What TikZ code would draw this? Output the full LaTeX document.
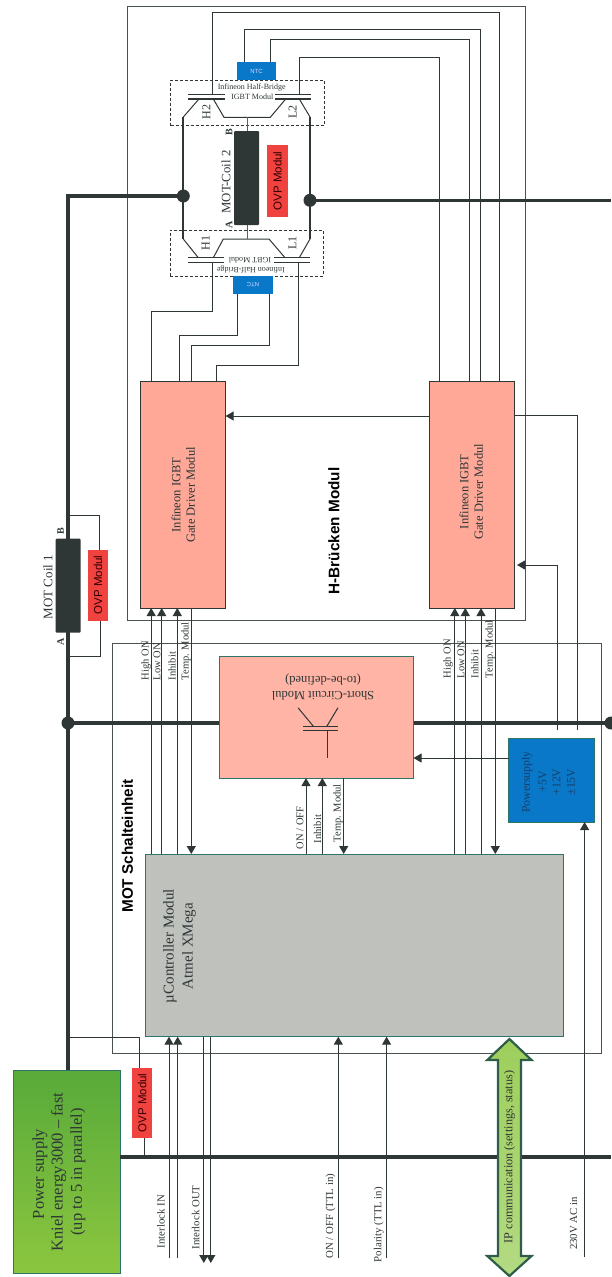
\documentclass[tikz,border=0pt]{standalone}
\usepackage{fontspec}
\setmainfont{Liberation Serif}
\setsansfont{Liberation Sans}
\usetikzlibrary{arrows.meta}
\definecolor{ink}{HTML}{2E3636}
\definecolor{frame}{HTML}{4A5252}
\definecolor{salmon}{HTML}{FFA898}
\definecolor{salmonb}{HTML}{FFB4A6}
\definecolor{ctrlgrey}{HTML}{BFC1BD}
\definecolor{teal}{HTML}{2F7468}
\definecolor{bluebox}{HTML}{0A78C8}
\definecolor{redbox}{HTML}{F0423F}
\definecolor{bluetext}{HTML}{14406A}
\definecolor{gdark}{HTML}{58AA3A}
\definecolor{glight}{HTML}{8CC63F}
\definecolor{gborder}{HTML}{2E5E48}
\tikzset{
  frameline/.style={draw=frame,line width=0.8pt},
  wire/.style={draw=ink,line width=1pt},
  arr/.style={wire,-{Triangle[length=8pt,width=9pt]}},
  rail/.style={draw=ink,line width=3.6pt},
  bus/.style={draw=ink,line width=2pt},
  plate/.style={draw=ink,line width=1.2pt},
  dot/.style={circle,fill=ink,inner sep=0pt,minimum size=13pt},
  boxbase/.style={inner sep=0pt,outer sep=0pt,line width=1pt},
  driver/.style={boxbase,draw=ink,fill=salmon},
  scbox/.style={boxbase,draw=teal,fill=salmonb},
  ctrl/.style={boxbase,draw=teal,fill=ctrlgrey},
  psu/.style={boxbase,draw=teal,top color=gdark,bottom color=glight},
  ntc/.style={boxbase,fill=bluebox},
  psbox/.style={boxbase,draw=teal,fill=bluebox},
  ovp/.style={boxbase,fill=redbox},
  coil/.style={boxbase,fill=ink,rounded corners=1pt},
  dashbox/.style={boxbase,draw=ink,dash pattern=on 3pt off 2pt,line width=0.8pt},
  tx/.style={inner sep=0pt,outer sep=0pt,font=\fontsize{10.5}{11}\selectfont,text=ink},
  vtx/.style={tx,rotate=90},
  sig/.style={vtx,anchor=west},
  ext/.style={vtx,font=\fontsize{10.8}{12}\selectfont},
  big/.style={vtx,font=\fontsize{12.5}{14.5}\selectfont,align=center},
  huge/.style={vtx,font=\fontsize{15}{17}\selectfont},
  pstx/.style={vtx,font=\fontsize{11.8}{13}\selectfont,text=bluetext},
  head/.style={vtx,font=\sffamily\bfseries\fontsize{15.3}{17}\selectfont,text=black},
  ovptx/.style={vtx,font=\sffamily\fontsize{11.5}{13}\selectfont,text=black!80!red},
}
\newcounter{tn}
\newcommand{\tbox}[6]{\node[#6,minimum width={(#4-#2)*1pt},minimum height={(#5-#3)*1pt}] (#1) at ({(#2+#4)/2},{(#3+#5)/2}) {};}
\newcommand{\tlab}[4]{\stepcounter{tn}\node[#1] (tx\arabic{tn}) at (#2,#3) {#4};}
\begin{document}
\begin{tikzpicture}[x=1pt,y=-1pt]
\useasboundingbox (0,0) rectangle (611,1277);
% enclosing frames
\tbox{hframe}{127.5}{6}{525}{620}{boxbase,frameline}
\tbox{mframe}{112.5}{643}{601}{1053}{boxbase,frameline}
% boxes
\tbox{drvA}{140.3}{381}{225.6}{608}{driver}
\tbox{drvB}{429}{381}{514.4}{608}{driver}
\tbox{sc}{219}{656.3}{413.5}{778}{scbox}
\tbox{mcu}{145}{854}{563.5}{1036.7}{ctrl}
\tbox{pw}{508.6}{738}{594}{822}{psbox}
\tbox{knl}{13.6}{1070}{120.4}{1273}{psu}
\coordinate (rtU) at (611,200.3);
\coordinate (rtM) at (611,723);
\coordinate (rtL) at (611,1157);
\node[dot] (dH1) at (183.3,196) {};
\node[dot] (dL1) at (310,200.3) {};
\node[dot] (dM1) at (68,723) {};
\node[dot] (dM2) at (611,723) {};
% thick rails
\draw[rail] (knl.north -| 68,0) -- (68,196) -- (dH1.center);
\draw[rail] (dL1.center) -- (rtU);
\draw[rail] (dM1.center) -- (sc.west |- dM1.center);
\draw[rail] (sc.east |- dM1.center) -- (rtM);
\draw[rail] (knl.east |- rtL) -- (rtL);
% half bridges
\coordinate (tH) at (183.3,117);
\coordinate (tL) at (310,117);
\coordinate (bH) at (183.3,239);
\coordinate (bL) at (310,239);
\draw[bus] (tH) -- (bH);
\draw[bus] (tL) -- (bL);
\coordinate (tC) at (247,117.3);
\coordinate (bC) at (247,239);
\draw[wire] (199,99) -- (tH);
\draw[wire] (213.3,99) -- (224,117.3) -- (270.3,117.3) -- (285.7,99);
\draw[wire] (299.3,99) -- (tL);
\draw[wire] (bH) -- (198.3,257.7);
\draw[wire] (213.3,257.7) -- (223.3,239) -- (269,239) -- (285,257.7);
\draw[wire] (bL) -- (299.3,257.7);
\foreach \xa/\xb/\ya in {188/224.7/94.3,188/224.7/99,275/311/94.3,275/311/99,187.7/224/257.7,187.7/224/262.3,274/310/257.7,274/310/262.3}
  \draw[plate] (\xa,\ya) -- (\xb,\ya);
\tbox{dashT}{170.7}{80}{324}{125.7}{dashbox}
\tbox{dashB}{170}{230}{323}{276}{dashbox}
\tbox{ntcT}{236.7}{62}{276}{80}{ntc}
\tbox{ntcB}{233}{276}{273}{294}{ntc}
\tbox{coilB}{234}{131}{259}{225}{coil}
\tbox{ovpB}{267}{145}{287.7}{216.7}{ovp}
\draw[draw=teal,line width=1pt] (tC) -- (coilB.north -| tC);
\draw[draw=teal,line width=1pt] (coilB.south -| bC) -- (bC);
% wires driver B to top bridge
\draw[wire] (212.7,94.3) -- (212.7,12.7) -- (499,12.7) -- (drvB.north -| 499,0);
\draw[wire] (ntcT.north -| 244.3,0) -- (244.3,29) -- (480.3,29) -- (drvB.north -| 480.3,0);
\draw[wire] (ntcT.north -| 270.3,0) -- (270.3,39.7) -- (469,39.7) -- (drvB.north -| 469,0);
\draw[wire] (299.3,94.3) -- (299.3,57.3) -- (439.3,57.3) -- (drvB.north -| 439.3,0);
% wires driver A to bottom bridge
\draw[wire] (212.3,262.3) -- (212.3,311) -- (151,311) -- (drvA.north -| 151,0);
\draw[wire] (ntcB.south -| 237,0) -- (237,335.7) -- (179.3,335.7) -- (drvA.north -| 179.3,0);
\draw[wire] (ntcB.south -| 269,0) -- (269,345.3) -- (191.3,345.3) -- (drvA.north -| 191.3,0);
\draw[wire] (298.3,262.3) -- (298.3,365.3) -- (216.3,365.3) -- (drvA.north -| 216.3,0);
% driver inter-link and PSU feeds
\draw[wire] (pw.north -| 577,0) ++(0,-8) -- (577,415.5) -- (drvB.east |- 577,415.5);
\draw[arr] (drvB.west |- 0,416) -- (drvA.east |- 0,416);
\draw[arr] (pw.north -| 557,0) ++(0,-8) -- (557,565) -- (517,565);
\draw[arr] (pw.west |- 0,758) -- (sc.east |- 0,758);
% controller signals
\foreach \x in {151.2,161.7,177.3} \draw[arr] (mcu.north -| \x,0) -- (drvA.south -| \x,0);
\draw[arr] (drvA.south -| 191.3,0) -- (mcu.north -| 191.3,0);
\foreach \x in {454.8,465.3,481} \draw[arr] (mcu.north -| \x,0) -- (drvB.south -| \x,0);
\draw[arr] (drvB.south -| 495.3,0) -- (mcu.north -| 495.3,0);
\foreach \x in {306,322.3} \draw[arr] (mcu.north -| \x,0) -- (sc.south -| \x,0);
\draw[arr] (sc.south -| 343.7,0) -- (mcu.north -| 343.7,0);
% coil 1
\tbox{coilA}{55.7}{538.7}{80.7}{632.7}{coil}
\tbox{ovpA}{87.7}{550}{108.3}{620.7}{ovp}
\draw[wire] (68,515.3) -- (99.4,515.3) -- (ovpA.north -| 99.4,0);
\draw[wire] (68,656) -- (100,656) -- (ovpA.south -| 100,0);
% lower OVP
\tbox{ovpC}{132}{1067.7}{152.4}{1138}{ovp}
\draw[wire] (68,1037.7) -- (139.5,1037.7) -- (ovpC.north -| 139.5,0);
\draw[wire] (ovpC.south -| 144,0) -- (144,1157);
% external signals
\foreach \x/\n in {169/a,177.7/b,338.3/c,386.6/d}{
  \coordinate (ext\n) at (\x,1258);
  \draw[arr] (ext\n) -- (mcu.south -| ext\n);
}
\foreach \x/\n in {203.8/e,210.8/f}{
  \coordinate (ext\n) at (\x,1263);
  \draw[arr] (mcu.south -| ext\n) -- (ext\n);
}
\coordinate (extg) at (584.6,1257);
\draw[arr] (extg) -- (pw.south -| extg);
% IGBT symbol in short-circuit module
\draw[wire] (303,726.7) -- (338,726.7);
\draw[wire] (303,730.7) -- (338,730.7);
\draw[wire] (327,730.7) -- (327,758);
\draw[wire] (313.7,726.7) -- (298,707.7);
\draw[wire] (326.6,726.7) -- (338,707.7);
% IP arrow
\draw[draw=gborder,line width=2.2pt,line join=miter,top color=glight!85!white,bottom color=glight!65!white]
  (509.4,1039) -- (531.5,1060) -- (521,1060) -- (521,1256) -- (531.5,1256) -- (509.4,1276) -- (487.3,1256) -- (498,1256) -- (498,1060) -- (487.3,1060) -- cycle;
% texts
\tlab{big}{176}{495}{Infineon IGBT}
\tlab{big}{190.5}{495}{Gate Driver Modul}
\tlab{big}{464}{491.7}{Infineon IGBT}
\tlab{big}{478.6}{491.7}{Gate Driver Modul}
\tlab{huge}{170}{946}{µController Modul}
\tlab{huge}{189}{946}{Atmel XMega}
\tlab{vtx,font=\fontsize{16.5}{18}\selectfont}{40}{1174}{Power supply}
\tlab{vtx,font=\fontsize{16.5}{18}\selectfont}{58.5}{1172}{Kniel energy3000 – fast}
\tlab{vtx,font=\fontsize{16.5}{18}\selectfont}{78}{1172}{(up to 5 in parallel)}
\tlab{head}{127.5}{846}{MOT Schalteinheit}
\tlab{head}{334}{531}{H-Brücken Modul}
\tlab{pstx}{527}{782}{Powersupply}
\tlab{pstx}{542.5}{782}{+5V}
\tlab{pstx}{556.5}{782}{+12V}
\tlab{pstx}{571}{782}{±15V}
\tlab{tx,rotate=180,font=\fontsize{12.5}{14}\selectfont}{323}{696}{Short-Circuit Modul}
\tlab{tx,rotate=180,font=\fontsize{12.5}{14}\selectfont}{323}{680}{(to-be-defined)}
\tlab{vtx,font=\fontsize{13}{15}\selectfont}{48}{587}{MOT Coil 1}
\tlab{vtx,font=\bfseries\fontsize{10}{12}\selectfont}{60.5}{642}{A}
\tlab{vtx,font=\bfseries\fontsize{10}{12}\selectfont}{60.5}{531}{B}
\tlab{vtx,font=\fontsize{12.8}{14}\selectfont}{226}{182}{MOT-Coil 2}
\tlab{vtx,font=\bfseries\fontsize{10}{12}\selectfont}{229}{225}{A}
\tlab{vtx,font=\bfseries\fontsize{10}{12}\selectfont}{229}{131.7}{B}
\tlab{ovptx}{98}{585}{OVP Modul}
\tlab{ovptx}{277.5}{181}{OVP Modul}
\tlab{ovptx}{142.2}{1103}{OVP Modul}
\tlab{tx,font=\sffamily\fontsize{6}{7}\selectfont,text=white!85!blue}{256.5}{71}{NTC}
\tlab{tx,rotate=180,font=\sffamily\fontsize{6}{7}\selectfont,text=white!85!blue}{253}{285}{NTC}
\tlab{tx,font=\fontsize{8}{9}\selectfont}{251.7}{87.7}{Infineon Half-Bridge}
\tlab{tx,font=\fontsize{8}{9}\selectfont}{252.3}{96.7}{IGBT Modul}
\tlab{tx,rotate=180,font=\fontsize{8}{9}\selectfont}{251}{269}{Infineon Half-Bridge}
\tlab{tx,rotate=180,font=\fontsize{8}{9}\selectfont}{250}{260.7}{IGBT Modul}
\tlab{vtx,font=\fontsize{12}{14}\selectfont}{206.3}{112}{H2}
\tlab{vtx,font=\fontsize{12}{14}\selectfont}{292.7}{112}{L2}
\tlab{vtx,font=\fontsize{12}{14}\selectfont}{205.7}{242.7}{H1}
\tlab{vtx,font=\fontsize{12}{14}\selectfont}{292.3}{243.3}{L1}
\tlab{sig}{146}{680}{High ON}
\tlab{sig}{157}{680}{Low ON}
\tlab{sig}{172}{680}{Inhibit}
\tlab{sig}{186}{680}{Temp. Modul}
\tlab{sig}{448}{678}{High ON}
\tlab{sig}{461}{678}{Low ON}
\tlab{sig}{474.7}{678}{Inhibit}
\tlab{sig}{490}{678}{Temp. Modul}
\tlab{sig}{300}{849}{ON / OFF}
\tlab{sig}{317.6}{843}{Inhibit}
\tlab{sig}{338}{842}{Temp. Modul}
\tlab{ext}{161}{1221.5}{Interlock IN}
\tlab{ext}{195.6}{1217.5}{Interlock OUT}
\tlab{ext}{330.5}{1216}{ON / OFF (TTL in)}
\tlab{ext}{378.8}{1224.5}{Polarity (TTL in)}
\tlab{ext}{573.7}{1223.5}{230V AC in}
\tlab{vtx,font=\fontsize{12.2}{14}\selectfont}{509.4}{1157}{IP communication (settings, status)}
\end{tikzpicture}
\end{document}
